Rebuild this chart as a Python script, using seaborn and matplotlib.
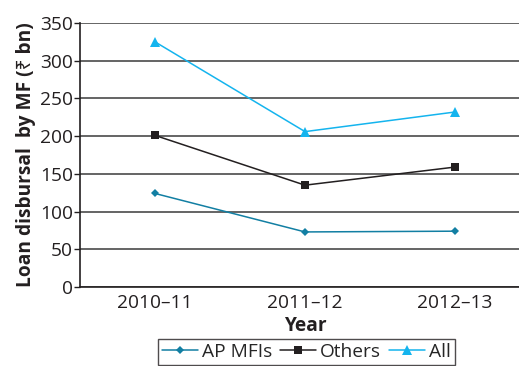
import matplotlib
matplotlib.use("Agg")
import matplotlib.pyplot as plt
import seaborn as sns
import pandas as pd

years = ["2010\u201311", "2011\u201312", "2012\u201313"]
ap_mfis = [124, 73, 74]
others = [201, 135, 159]
all_mf = [325, 206, 232]

series_names = ["AP MFIs", "Others", "All"]
series_colors = {"AP MFIs": "#127fa3", "Others": "#231f20", "All": "#14b4ee"}
series_markers = {"AP MFIs": "D", "Others": "s", "All": "^"}
marker_sizes = {"AP MFIs": 4.5, "Others": 6, "All": 6.5}

df = pd.DataFrame({
    "Year": years * 3,
    "Value": ap_mfis + others + all_mf,
    "Series": [s for s in series_names for _ in years],
})
df["x"] = df["Year"].map({y: i for i, y in enumerate(years)})

sns.set_style("white")
plt.rcParams["font.family"] = ["Open Sans", "Noto Sans", "DejaVu Sans"]

fs = 13.8
fig = plt.figure(figsize=(5.19, 3.66), dpi=100)
ax = fig.add_axes([80 / 519, 1 - 287 / 366, 450 / 519, 264 / 366])

for name in series_names:
    sub = df[df["Series"] == name]
    sns.lineplot(data=sub, x="x", y="Value", ax=ax, color=series_colors[name],
                 marker=series_markers[name], markersize=marker_sizes[name],
                 markeredgewidth=0, linewidth=1.1, label=name)

ax.set_xlim(-0.5, 2.5)
ax.set_ylim(0, 350)
ax.set_yticks(range(0, 351, 50))
ax.yaxis.grid(True, color="#3a3a3a", linewidth=1.1)
ax.set_axisbelow(True)

ax.set_xticks([0, 1, 2])
ax.set_xticklabels(years)
ax.set_xticks([0.5, 1.5], minor=True)
ax.tick_params(axis="x", which="major", length=0, pad=5, labelsize=fs, colors="#231f20")
ax.tick_params(axis="x", which="minor", length=4, width=1, color="#231f20", direction="out")
ax.tick_params(axis="y", which="major", length=4, width=1, color="#231f20",
               direction="out", pad=1, labelsize=fs, labelcolor="#231f20", left=True)

for side in ["top", "right"]:
    ax.spines[side].set_visible(False)
for side in ["left", "bottom"]:
    ax.spines[side].set_color("#231f20")
    ax.spines[side].set_linewidth(1.2)

ax.set_xlabel("Year", fontsize=fs, fontweight="bold", labelpad=3, color="#231f20")
ax.set_ylabel("Loan disbursal  by MF (\u20b9 bn)", fontsize=fs, fontweight="bold",
              labelpad=3, color="#231f20")

leg = ax.legend(loc="upper left", bbox_to_anchor=(158 / 519, 27 / 366),
                bbox_transform=fig.transFigure, ncol=3, frameon=True,
                fontsize=fs, handlelength=1.9, handletextpad=0.2,
                columnspacing=0.4, borderpad=0.2, borderaxespad=0,
                fancybox=False)
leg.get_frame().set_edgecolor("#231f20")
leg.get_frame().set_linewidth(1.0)

fig.savefig("out.png", dpi=100)
